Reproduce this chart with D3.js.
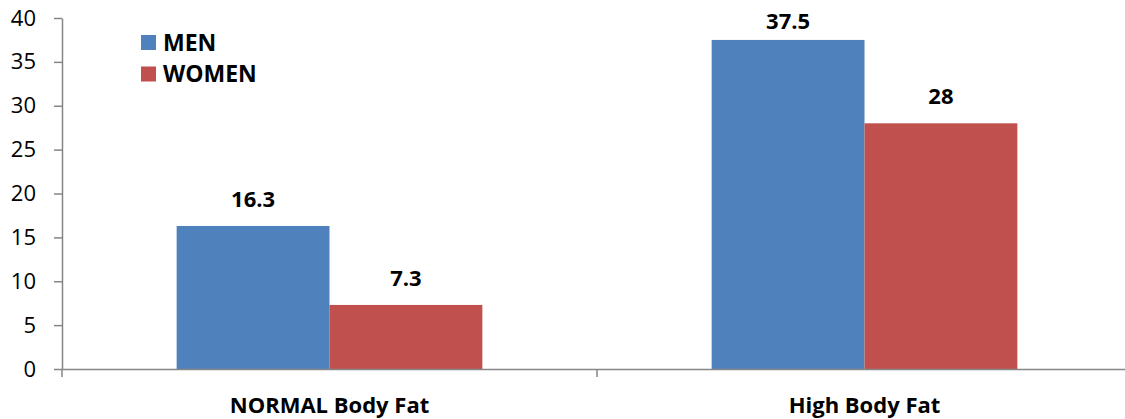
<!DOCTYPE html>
<html>
<head>
<meta charset="utf-8">
<script src="https://cdn.jsdelivr.net/npm/d3@7"></script>
<style>
  html, body { margin: 0; padding: 0; background: #fff; }
  svg { display: block; }
  text { font-family: "Open Sans", sans-serif; fill: #000; }
</style>
</head>
<body>
<svg id="chart" width="1125" height="419"></svg>
<script>
const categories = ["NORMAL Body Fat", "High Body Fat"];
const seriesNames = ["MEN", "WOMEN"];
const menValues = [16.3, 37.5];
const womenValues = [7.3, 28];
const yTicks = [0, 5, 10, 15, 20, 25, 30, 35, 40];
const colors = ["#4F81BD", "#C0504D"];

const seriesValues = [menValues, womenValues];
const svg = d3.select("#chart");

const x0 = d3.scaleBand().domain(categories).range([62, 1132]).padding(0);
const x1 = d3.scaleBand().domain(seriesNames).range([0, x0.bandwidth()]).paddingInner(0).paddingOuter(0.75);
const y = d3.scaleLinear().domain([0, 40]).range([369, 18]);

const axisColor = "#868686";

// Bars
const groups = svg.append("g").selectAll("g")
  .data(categories).join("g")
  .attr("transform", d => `translate(${x0(d)},0)`);

groups.selectAll("rect")
  .data((c, i) => seriesNames.map((s, j) => ({ s, v: seriesValues[j][i], j })))
  .join("rect")
  .attr("x", d => x1(d.s))
  .attr("width", x1.bandwidth())
  .attr("y", d => y(d.v))
  .attr("height", d => y(0) - y(d.v))
  .attr("fill", d => colors[d.j]);

groups.selectAll("text.val")
  .data((c, i) => seriesNames.map((s, j) => ({ s, v: seriesValues[j][i], j })))
  .join("text")
  .attr("class", "val")
  .attr("x", d => x1(d.s) + x1.bandwidth() / 2)
  .attr("y", d => Math.max(y(d.v) - 19, 29))
  .attr("text-anchor", "middle")
  .style("font-weight", "bold")
  .style("font-size", "22px")
  .text(d => d.v);

// Y axis
const yAxis = svg.append("g")
  .attr("transform", "translate(62,0)")
  .call(d3.axisLeft(y).tickValues(yTicks).tickSize(8).tickPadding(18).tickSizeOuter(0));
yAxis.select(".domain").attr("stroke", axisColor).attr("stroke-width", 1.5);
yAxis.selectAll(".tick line").attr("stroke", axisColor).attr("stroke-width", 1.5);
yAxis.selectAll(".tick text")
  .style("font-family", "'Open Sans', sans-serif")
  .style("font-size", "22px")
  .attr("fill", "#000");

// X axis
const xAxis = svg.append("g")
  .attr("transform", `translate(0,${y(0)})`)
  .call(d3.axisBottom(x0).tickValues([]).tickSizeOuter(0));
xAxis.select(".domain").attr("stroke", axisColor).attr("stroke-width", 1.5);
const xTickPos = [x0.range()[0], ...categories.slice(1).map(c => x0(c)), x0.range()[1]];
xAxis.selectAll("line.xt")
  .data(xTickPos).join("line")
  .attr("class", "xt")
  .attr("x1", d => d).attr("x2", d => d)
  .attr("y1", 0).attr("y2", 8)
  .attr("stroke", axisColor).attr("stroke-width", 1.5);

svg.append("g").selectAll("text")
  .data(categories).join("text")
  .attr("x", d => x0(d) + x0.bandwidth() / 2)
  .attr("y", 413)
  .attr("text-anchor", "middle")
  .style("font-weight", "bold")
  .style("font-size", "22px")
  .text(d => d);

// Legend
const legend = svg.append("g").attr("transform", "translate(141,35)");
const li = legend.selectAll("g").data(seriesNames).join("g")
  .attr("transform", (d, i) => `translate(0,${i * 31.5})`);
li.append("rect").attr("width", 15).attr("height", 15).attr("fill", (d, i) => colors[i]);
li.append("text").attr("x", 22).attr("y", 15.5)
  .style("font-weight", "bold").style("font-size", "23px")
  .text(d => d);
</script>
</body>
</html>
